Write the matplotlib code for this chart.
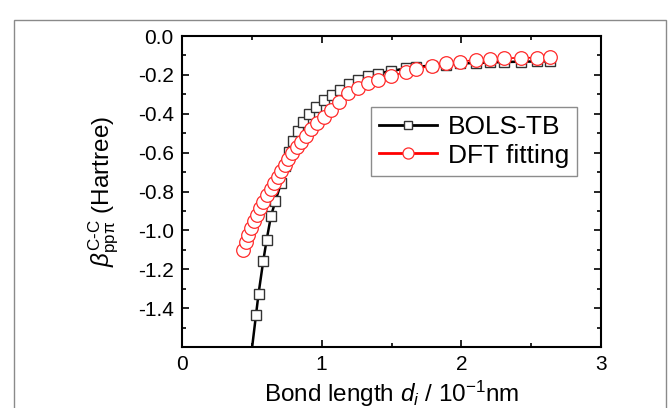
import matplotlib
matplotlib.use("Agg")
import matplotlib.pyplot as plt
from matplotlib.patches import Rectangle
from matplotlib.ticker import MultipleLocator

plt.rcParams['font.family'] = ['Liberation Sans', 'DejaVu Sans']
plt.rcParams['mathtext.fontset'] = 'custom'
plt.rcParams['mathtext.rm'] = 'Liberation Sans'
plt.rcParams['mathtext.it'] = 'Liberation Sans:italic'
plt.rcParams['mathtext.bf'] = 'Liberation Sans:bold'

# BOLS-TB (squares)
bols_x = [0.530, 0.548, 0.582, 0.606, 0.637, 0.669, 0.709, 0.737, 0.766, 0.795,
          0.830, 0.866, 0.909, 0.959, 1.016, 1.074, 1.131, 1.195, 1.262, 1.334,
          1.405, 1.496, 1.603, 1.675, 1.787, 1.888, 1.990, 2.105, 2.205, 2.305,
          2.425, 2.539, 2.634]
bols_y = [-1.434, -1.326, -1.156, -1.049, -0.926, -0.849, -0.756, -0.669, -0.597, -0.540,
          -0.489, -0.442, -0.401, -0.365, -0.329, -0.303, -0.278, -0.247, -0.226, -0.208,
          -0.193, -0.180, -0.167, -0.159, -0.152, -0.147, -0.141, -0.139, -0.136, -0.134,
          -0.132, -0.131, -0.130]
# BOLS-TB curve continues below the axis
bols_tail_x = [0.494]
bols_tail_y = [-1.65]

# DFT fitting (circles)
dft_x = [0.435, 0.455, 0.476, 0.494, 0.515, 0.537, 0.558, 0.583, 0.608, 0.634,
         0.659, 0.684, 0.709, 0.734, 0.759, 0.787, 0.820, 0.852, 0.888, 0.923,
         0.966, 1.016, 1.067, 1.127, 1.192, 1.262, 1.334, 1.405, 1.496, 1.603,
         1.675, 1.787, 1.888, 1.990, 2.105, 2.205, 2.305, 2.425, 2.539, 2.634]
dft_y = [-1.101, -1.060, -1.024, -0.988, -0.954, -0.921, -0.887, -0.854, -0.820, -0.787,
         -0.756, -0.725, -0.694, -0.664, -0.633, -0.602, -0.571, -0.543, -0.512, -0.481,
         -0.450, -0.417, -0.383, -0.340, -0.293, -0.267, -0.244, -0.226, -0.206, -0.185,
         -0.170, -0.153, -0.140, -0.132, -0.123, -0.120, -0.115, -0.112, -0.112, -0.108]

xticks = [0, 1, 2, 3]
yticks = [0.0, -0.2, -0.4, -0.6, -0.8, -1.0, -1.2, -1.4]

fig = plt.figure(figsize=(6.70, 4.08), dpi=100)
ax = fig.add_axes([182/670, 1-347/408, (601-182)/670, (347-36)/408])

# figure border
fig.patches.append(Rectangle((14/670, -0.05), (666-14)/670, 1-20/408+0.05,
                             transform=fig.transFigure, fill=False,
                             edgecolor='#8a8a8a', lw=1.0, zorder=0))

ax.plot(bols_tail_x + bols_x, bols_tail_y + bols_y, '-', color='black', lw=1.8, zorder=2)
ax.plot(bols_x, bols_y, 's', ls='none', ms=7.4, mfc='white', mec='#333333', mew=1.0, zorder=3)
ax.plot(dft_x, dft_y, '-', color='red', lw=1.2, zorder=4)
ax.plot(dft_x, dft_y, 'o', ls='none', ms=9.8, mfc='white', mec='#ff2a2a', mew=0.9, zorder=5)

# legend proxies
l1, = ax.plot([], [], '-s', color='black', lw=2.0, ms=6, mfc='white', mec='#333333', mew=1.0)
l2, = ax.plot([], [], '-o', color='red', lw=2.0, ms=8, mfc='white', mec='#ff2a2a', mew=0.9)
leg = ax.legend([l1, l2], ['BOLS-TB', 'DFT fitting'], loc='upper left',
                bbox_to_anchor=((371-182)/419, 1-(107-36)/311),
                fontsize=19, frameon=True, fancybox=False, handlelength=2.2,
                handletextpad=0.4, borderpad=0.3, labelspacing=0.18, borderaxespad=0)
leg.get_frame().set_edgecolor('#707070')
leg.get_frame().set_linewidth(1.0)

ax.set_xlim(0, 3)
ax.set_ylim(-1.6, 0.0)
ax.set_xticks(xticks)
ax.set_xticklabels([str(t) for t in xticks])
ax.set_yticks(yticks)
ax.set_yticklabels(['%.1f' % t for t in yticks])
ax.xaxis.set_minor_locator(MultipleLocator(0.5))
ax.yaxis.set_minor_locator(MultipleLocator(0.1))
ax.tick_params(which='both', direction='in', top=True, right=True, labelsize=15, width=1.2)
ax.tick_params(which='major', length=5, pad=6)
ax.tick_params(which='minor', length=3)
for s in ax.spines.values():
    s.set_linewidth(1.5)

ax.set_xlabel(r'Bond length $d_i$ / 10$^{-1}$nm', fontsize=17.5, labelpad=3)
ax.set_ylabel('$\\beta^{\\rm C\u2010C}_{\\rm pp\\pi}$ (Hartree)', fontsize=17.5, labelpad=12)

fig.savefig('out.png', dpi=100)
